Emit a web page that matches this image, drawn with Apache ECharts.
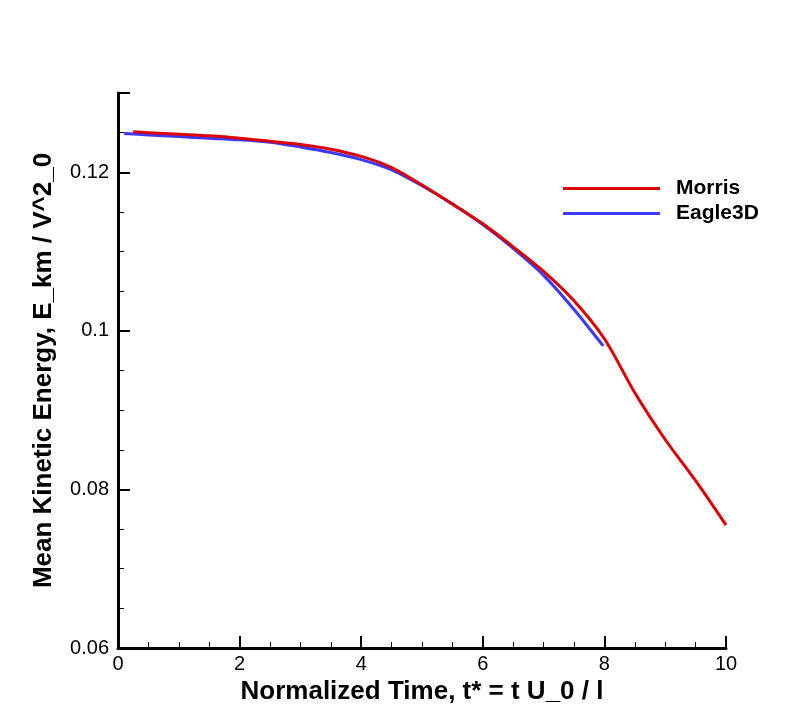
<!DOCTYPE html>
<html>
<head>
<meta charset="utf-8">
<script src="https://cdn.jsdelivr.net/npm/echarts@6/dist/echarts.min.js"></script>
<style>html,body{margin:0;padding:0;background:#fff;}#c{width:811px;height:723px;}</style>
</head>
<body>
<div id="c"></div>
<script>
const morrisT = [0.25, 0.5, 1.0, 1.5, 2.0, 2.5, 3.0, 3.5, 4.0, 4.5, 5.0, 5.5, 6.0, 6.5, 7.0, 7.5, 8.0, 8.5, 9.0, 9.5, 10.0];
const morrisE = [0.1251, 0.1250, 0.1248, 0.1246, 0.1243, 0.1239, 0.1235, 0.1229, 0.1220, 0.1206, 0.1184, 0.1160, 0.1135, 0.1106, 0.1075, 0.1038, 0.0990, 0.0922, 0.0863, 0.0811, 0.0755];
const eagleT = [0.1, 0.5, 1.0, 1.5, 2.0, 2.5, 3.0, 3.5, 4.0, 4.5, 5.0, 5.5, 6.0, 6.5, 7.0, 7.5, 7.98];
const eagleE = [0.1249, 0.1247, 0.1245, 0.1243, 0.1241, 0.1238, 0.1232, 0.1225, 0.1216, 0.1203, 0.1183, 0.1160, 0.1134, 0.1104, 0.1070, 0.1027, 0.0981];
const seriesNames = ['Morris', 'Eagle3D'];
const xTitle = 'Normalized Time, t* = t U_0 / l';
const yTitle = 'Mean Kinetic Energy, E_km / V^2_0';

const zip = (a, b) => a.map((v, i) => [v, b[i]]);
const font = 'Liberation Sans, Arial, Helvetica, sans-serif';
const chart = echarts.init(document.getElementById('c'), null, {renderer: 'canvas'});
const axisCommon = {
  axisLine: {show: true, onZero: false, lineStyle: {color: '#000', width: 3}},
  axisTick: {show: true, inside: true, length: 12, lineStyle: {color: '#000', width: 2}},
  minorTick: {show: true, splitNumber: 4, length: 6, lineStyle: {color: '#000', width: 1}},
  splitLine: {show: false},
  nameTextStyle: {fontFamily: font, fontWeight: 'bold', fontSize: 26, color: '#000'},
  nameLocation: 'middle'
};
chart.setOption({
  animation: false,
  backgroundColor: '#fff',
  grid: {left: 118, right: 85, top: 93, bottom: 75},
  legend: {
    orient: 'vertical', left: 558, top: 173, itemWidth: 97, itemHeight: 3, itemGap: 4,
    icon: 'rect',
    textStyle: {fontFamily: font, fontWeight: 'bold', fontSize: 21, color: '#000', padding: [0, 0, 0, 11]},
    data: seriesNames
  },
  xAxis: Object.assign({}, axisCommon, {
    type: 'value', min: 0, max: 10, interval: 2,
    name: xTitle, nameGap: 22,
    axisLabel: {fontFamily: font, fontSize: 20, color: '#000', margin: 6}
  }),
  yAxis: Object.assign({}, axisCommon, {
    type: 'value', min: 0.06, max: 0.13, interval: 0.02,
    name: yTitle, nameGap: 61, nameRotate: 90,
    axisLabel: {fontFamily: font, fontSize: 20, color: '#000', margin: 9, showMaxLabel: false}
  }),
  series: [
    {name: seriesNames[0], type: 'line', data: zip(morrisT, morrisE), showSymbol: false, symbol: 'none', smooth: 0.3,
     lineStyle: {color: '#dd0000', width: 3}, itemStyle: {color: '#dd0000'}, z: 3},
    {name: seriesNames[1], type: 'line', data: zip(eagleT, eagleE), showSymbol: false, symbol: 'none', smooth: 0.3,
     lineStyle: {color: '#3a3aff', width: 3}, itemStyle: {color: '#3a3aff'}, z: 2}
  ]
});
</script>
</body>
</html>
